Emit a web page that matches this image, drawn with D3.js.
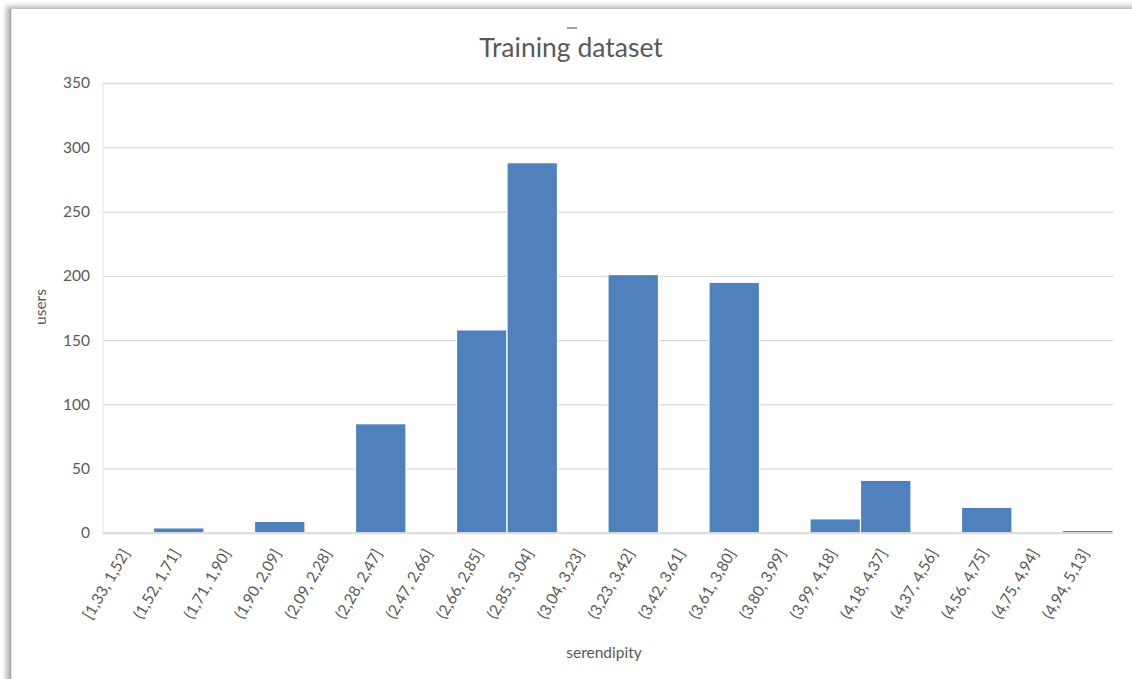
<!DOCTYPE html>
<html>
<head>
<meta charset="utf-8">
<script src="https://cdn.jsdelivr.net/npm/d3@7"></script>
<style>
  html, body { margin: 0; padding: 0; background: #fff; }
  svg { display: block; }
</style>
</head>
<body>
<svg id="chart" width="1132" height="679"></svg>
<script>
// Histogram bins of serendipity scores and the number of users in each
const bins = [
  "[1,33, 1,52]", "(1,52, 1,71]", "(1,71, 1,90]", "(1,90, 2,09]", "(2,09, 2,28]",
  "(2,28, 2,47]", "(2,47, 2,66]", "(2,66, 2,85]", "(2,85, 3,04]", "(3,04, 3,23]",
  "(3,23, 3,42]", "(3,42, 3,61]", "(3,61, 3,80]", "(3,80, 3,99]", "(3,99, 4,18]",
  "(4,18, 4,37]", "(4,37, 4,56]", "(4,56, 4,75]", "(4,75, 4,94]", "(4,94, 5,13]"
];
const users = [0, 4, 0, 9, 0, 85, 0, 158, 288, 0, 201, 0, 195, 0, 11, 41, 0, 20, 0, 2];
const yTicks = [0, 50, 100, 150, 200, 250, 300, 350];

const chartTitle = "Training dataset";
const xTitle = "serendipity";
const yTitle = "users";

const svg = d3.select("#chart");
const font = "Lato, 'Open Sans', sans-serif";
const textColor = "#595959";

// Frame with a soft shadow on its top and left edges
const defs = svg.append("defs");
const blur = defs.append("filter").attr("id", "shade")
  .attr("x", "-5%").attr("y", "-5%").attr("width", "110%").attr("height", "110%");
blur.append("feGaussianBlur").attr("stdDeviation", 2.5);

svg.append("rect").attr("x", 6).attr("y", 6).attr("width", 1200).attr("height", 800)
  .attr("fill", "#b8b8b8").attr("filter", "url(#shade)");
svg.append("rect").attr("x", 11).attr("y", 9).attr("width", 1200).attr("height", 800)
  .attr("fill", "#fff");
svg.append("line").attr("x1", 10.5).attr("x2", 10.5).attr("y1", 9).attr("y2", 679)
  .attr("stroke", "#a8a8a8").attr("stroke-width", 1.5);

// Small clipped stroke left above the title
svg.append("line").attr("x1", 567).attr("x2", 577).attr("y1", 28).attr("y2", 28)
  .attr("stroke", "#8a8a8a").attr("stroke-width", 1.6);

const plot = { left: 103, right: 1113, top: 83, bottom: 533 };

const x = d3.scaleBand().domain(bins).range([plot.left, plot.right]).padding(0);
const y = d3.scaleLinear().domain([0, 350]).range([plot.bottom, plot.top]);

// Horizontal gridlines
svg.append("g")
  .attr("transform", `translate(${plot.left},0)`)
  .call(d3.axisLeft(y).tickValues(yTicks).tickSize(-(plot.right - plot.left)).tickFormat(""))
  .call(g => g.select(".domain").remove())
  .call(g => g.selectAll(".tick line").attr("stroke", "#d9d9d9").attr("stroke-width", 1.3));

// Faint left edge of the plot area
svg.append("line")
  .attr("x1", plot.left).attr("x2", plot.left)
  .attr("y1", y(350)).attr("y2", y(0))
  .attr("stroke", "#e3e3e3").attr("stroke-width", 1);

// Y tick labels
svg.append("g")
  .attr("transform", `translate(${plot.left - 13},0)`)
  .call(d3.axisLeft(y).tickValues(yTicks).tickSize(0).tickPadding(0))
  .call(g => g.select(".domain").remove())
  .call(g => g.selectAll("text")
    .attr("fill", textColor).attr("font-family", font).attr("font-size", 15.5));

// Bars
svg.append("g").selectAll("rect")
  .data(bins.map((b, i) => ({ bin: b, value: users[i] })).filter(d => d.value > 0))
  .join("rect")
  .attr("x", d => x(d.bin))
  .attr("y", d => y(d.value))
  .attr("width", x.bandwidth())
  .attr("height", d => y(0) - y(d.value))
  .attr("fill", "#4f81bd")
  .attr("stroke", "#fff")
  .attr("stroke-width", 1.2);

// Baseline
svg.append("line")
  .attr("x1", plot.left).attr("x2", plot.right)
  .attr("y1", y(0)).attr("y2", y(0))
  .attr("stroke", "#d9d9d9").attr("stroke-width", 1.5);

// X tick labels, slanted
svg.append("g")
  .attr("transform", `translate(0,${plot.bottom})`)
  .call(d3.axisBottom(x).tickSize(0).tickPadding(0))
  .call(g => g.select(".domain").remove())
  .call(g => g.selectAll("text")
    .attr("fill", textColor).attr("font-family", font).attr("font-size", 15.5)
    .attr("text-anchor", "end")
    .attr("dy", "0")
    .attr("y", 0)
    .attr("transform", "translate(2,20) rotate(-60)"));

// Titles
svg.append("text")
  .attr("x", 571).attr("y", 57)
  .attr("text-anchor", "middle")
  .attr("fill", textColor).attr("font-family", font).attr("font-size", 26.5)
  .text(chartTitle);

svg.append("text")
  .attr("x", 604).attr("y", 658)
  .attr("text-anchor", "middle")
  .attr("fill", textColor).attr("font-family", font).attr("font-size", 15.5)
  .text(xTitle);

svg.append("text")
  .attr("transform", "translate(46,307) rotate(-90)")
  .attr("text-anchor", "middle")
  .attr("fill", textColor).attr("font-family", font).attr("font-size", 15.5)
  .text(yTitle);
</script>
</body>
</html>
